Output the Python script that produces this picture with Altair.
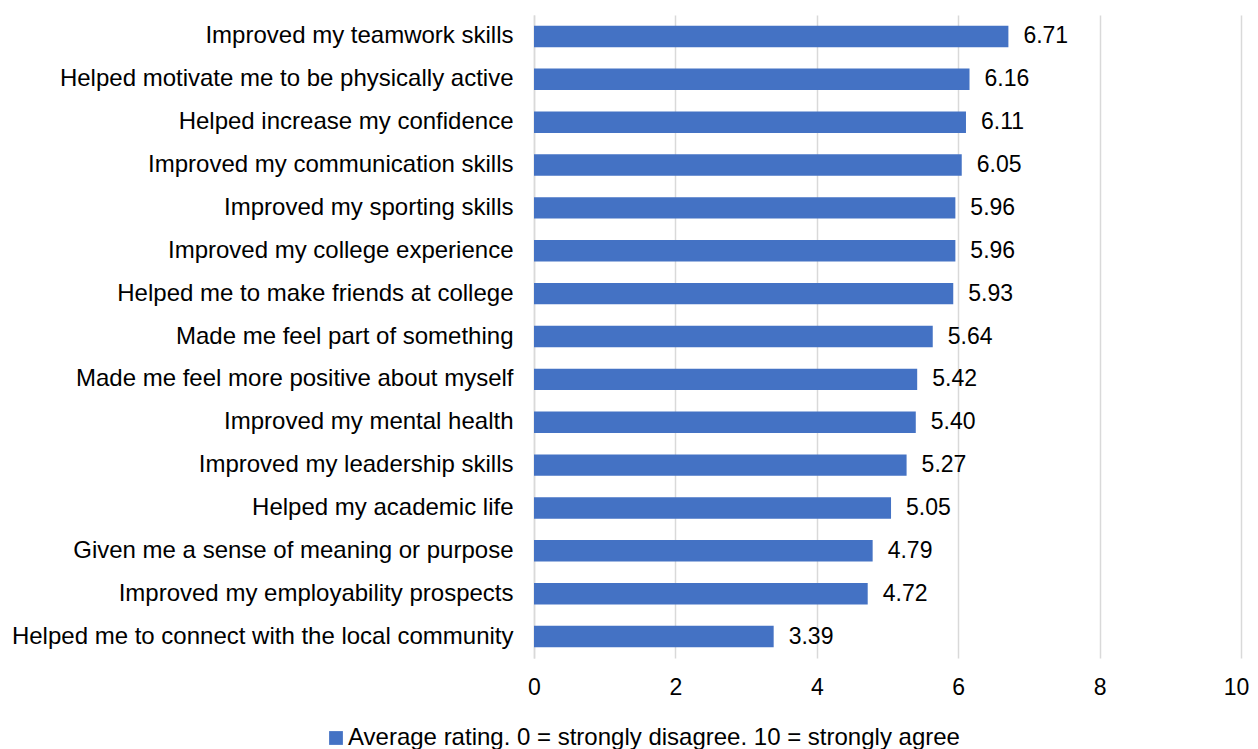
import altair as alt
import pandas as pd

categories = [
    "Improved my teamwork skills",
    "Helped motivate me to be physically active",
    "Helped increase my confidence",
    "Improved my communication skills",
    "Improved my sporting skills",
    "Improved my college experience",
    "Helped me to make friends at college",
    "Made me feel part of something",
    "Made me feel more positive about myself",
    "Improved my mental health",
    "Improved my leadership skills",
    "Helped my academic life",
    "Given me a sense of meaning or purpose",
    "Improved my employability prospects",
    "Helped me to connect with the local community",
]
values = [6.71, 6.16, 6.11, 6.05, 5.96, 5.96, 5.93, 5.64, 5.42, 5.40, 5.27, 5.05, 4.79, 4.72, 3.39]
x_ticks = [0, 2, 4, 6, 8, 10]
series_name = "Average rating. 0 = strongly disagree. 10 = strongly agree"

df = pd.DataFrame({"category": categories, "value": values, "series": series_name})

FONT = "Liberation Sans"

y_enc = alt.Y(
    "category:N",
    sort=None,
    title=None,
    scale=alt.Scale(paddingInner=0.5, paddingOuter=0.25),
    axis=alt.Axis(
        labelFontSize=24,
        labelFont=FONT,
        labelColor="#000000",
        labelLimit=700,
        labelPadding=21,
        ticks=False,
        domain=True,
        domainColor="#d9d9d9",
        domainWidth=1.5,
        grid=False,
    ),
)
x_enc = alt.X(
    "value:Q",
    title=None,
    scale=alt.Scale(domain=[0, 10], nice=False),
    axis=alt.Axis(
        values=x_ticks,
        format="d",
        labelFlush=False,
        labelOffset={"condition": {"test": "datum.value == 10", "value": -5}, "value": 0},
        labelFontSize=23,
        labelFont=FONT,
        labelColor="#000000",
        labelPadding=18,
        ticks=False,
        domain=False,
        grid=True,
        gridColor="#d9d9d9",
        gridWidth=1.5,
    ),
)

bars = alt.Chart(df).mark_bar(color="#4472C4").encode(
    y=y_enc,
    x=x_enc,
    color=alt.Color(
        "series:N",
        scale=alt.Scale(range=["#4472C4"]),
        legend=alt.Legend(
            title=None,
            orient="none",
            legendX=-210,
            legendY=711,
            symbolType="square",
            symbolSize=190,
            symbolStrokeWidth=0,
            labelFontSize=24,
            labelFont=FONT,
            labelColor="#000000",
            labelLimit=1000,
            labelOffset=0,
        ),
    ),
)

text = alt.Chart(df).mark_text(
    align="left", baseline="middle", dx=15, fontSize=23, font=FONT, color="#000000"
).encode(
    y=alt.Y("category:N", sort=None),
    x=alt.X("value:Q"),
    text=alt.Text("value:Q", format=".2f"),
)

chart = (
    alt.layer(bars, text)
    .properties(
        width=707,
        height=643,
        padding={"left": 526, "top": 7, "right": 9, "bottom": 100},
        autosize=alt.AutoSizeParams(type="none"),
    )
    .configure_view(stroke=None)
)

chart.save("out.html", embed_options={"renderer": "svg", "actions": False})
